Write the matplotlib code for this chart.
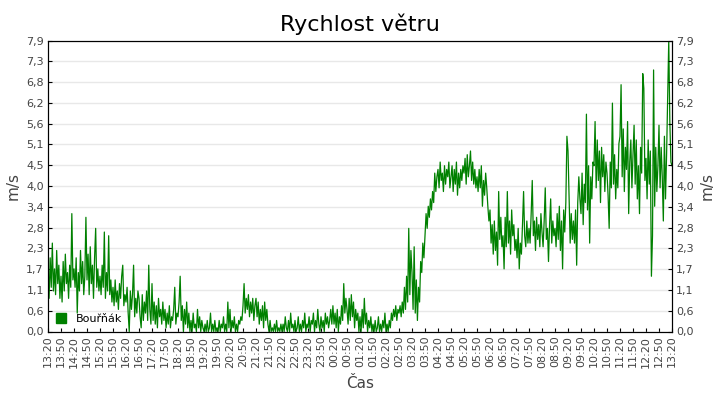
import numpy as np
import pandas as pd
import matplotlib
matplotlib.use('Agg')
import matplotlib.pyplot as plt
import matplotlib.dates as mdates
from matplotlib.patches import Patch

# wind speed, one value every 2.5 min, one row per 30 min block
rychlost = [
    1.6, 0.9, 2.0, 1.2, 2.4, 1.1, 1.7, 1.0, 2.2, 1.3, 1.8, 0.9,   # 13:20
    1.5, 0.8, 1.9, 1.1, 2.1, 1.3, 1.6, 0.9, 1.8, 1.2, 3.2, 1.4,   # 13:50
    1.7, 1.2, 2.0, 0.5, 1.6, 1.1, 2.2, 1.3, 1.9, 1.0, 1.5, 3.1,   # 14:20
    1.4, 2.1, 1.0, 2.3, 1.3, 1.8, 0.9, 2.0, 2.8, 1.2, 1.7, 1.1,   # 14:50
    1.5, 1.0, 1.8, 1.2, 2.7, 0.9, 1.6, 1.1, 2.6, 1.0, 1.4, 0.8,   # 15:20
    1.2, 0.7, 1.4, 0.8, 1.1, 0.6, 1.3, 0.9, 1.5, 1.8, 0.7, 1.0,   # 15:50
    0.8, 1.2, 0.5, 0.0, 1.1, 0.6, 1.0, 1.8, 0.4, 0.9, 0.5, 1.1,   # 16:20
    0.9, 0.4, 0.1, 1.0, 0.3, 0.8, 0.5, 1.1, 0.3, 1.8, 0.6, 0.2,   # 16:50
    1.3, 0.3, 0.8, 0.2, 0.7, 0.1, 0.9, 0.4, 0.6, 0.2, 0.8, 0.3,   # 17:20
    0.6, 0.1, 0.5, 0.2, 0.7, 0.1, 0.4, 0.3, 0.6, 1.2, 0.2, 0.5,   # 17:50
    0.4, 0.8, 1.5, 0.3, 0.7, 0.0, 0.6, 0.2, 0.8, 0.1, 0.5, 0.0,   # 18:20
    0.3, 0.0, 0.5, 0.1, 0.2, 0.0, 0.6, 0.1, 0.4, 0.0, 0.3, 0.1,   # 18:50
    0.0, 0.2, 0.0, 0.3, 0.0, 0.1, 0.5, 0.0, 0.2, 0.0, 0.3, 0.0,   # 19:20
    0.1, 0.0, 0.3, 0.0, 0.2, 0.1, 0.4, 0.0, 0.2, 0.0, 0.8, 0.1,   # 19:50
    0.6, 0.0, 0.3, 0.1, 0.4, 0.0, 0.2, 0.0, 0.3, 0.2, 0.4, 0.3,   # 20:20
    0.7, 1.3, 0.5, 0.9, 0.6, 1.0, 0.4, 0.8, 0.5, 0.9, 0.3, 0.7,   # 20:50
    0.9, 0.4, 0.8, 0.2, 0.6, 0.3, 0.7, 0.1, 0.8, 0.3, 0.6, 0.2,   # 21:20
    0.0, 0.3, 0.0, 0.1, 0.0, 0.2, 0.0, 0.3, 0.0, 0.1, 0.0, 0.2,   # 21:50
    0.0, 0.2, 0.0, 0.4, 0.1, 0.0, 0.3, 0.0, 0.5, 0.1, 0.2, 0.0,   # 22:20
    0.3, 0.0, 0.1, 0.4, 0.0, 0.2, 0.0, 0.3, 0.1, 0.5, 0.0, 0.2,   # 22:50
    0.1, 0.4, 0.0, 0.3, 0.2, 0.5, 0.0, 0.3, 0.1, 0.6, 0.2, 0.0,   # 23:20
    0.4, 0.1, 0.3, 0.0, 0.5, 0.2, 0.4, 0.1, 0.3, 0.6, 0.2, 0.7,   # 23:50
    0.2, 0.5, 0.1, 0.6, 0.0, 0.4, 0.2, 0.7, 0.3, 1.3, 0.5, 0.9,   # 00:20
    0.6, 0.2, 0.9, 0.3, 1.0, 0.4, 0.8, 0.1, 0.6, 0.3, 0.5, 0.0,   # 00:50
    0.4, 0.0, 0.6, 0.1, 0.9, 0.2, 0.5, 0.0, 0.3, 0.1, 0.4, 0.0,   # 01:20
    0.2, 0.0, 0.3, 0.0, 0.1, 0.4, 0.0, 0.2, 0.0, 0.3, 0.1, 0.5,   # 01:50
    0.0, 0.2, 0.0, 0.3, 0.1, 0.5, 0.3, 0.6, 0.4, 0.7, 0.3, 0.6,   # 02:20
    0.5, 0.7, 0.4, 0.8, 0.5, 1.2, 0.6, 1.5, 0.8, 2.8, 1.0, 2.2,   # 02:50
    1.6, 0.6, 2.3, 0.5, 1.4, 0.3, 1.2, 0.8, 1.9, 1.6, 2.4, 2.0,   # 03:20
    2.6, 3.2, 2.8, 3.4, 3.1, 3.6, 3.3, 3.8, 3.5, 4.3, 3.8, 4.2,   # 03:50
    4.4, 3.9, 4.6, 4.1, 4.3, 3.8, 4.5, 4.0, 4.4, 4.2, 4.6, 3.9,   # 04:20
    4.2, 4.5, 3.8, 4.4, 4.0, 4.6, 3.7, 4.3, 3.9, 4.4, 4.1, 4.5,   # 04:50
    4.3, 4.7, 4.0, 4.8, 4.2, 4.5, 4.9, 4.1, 4.6, 4.0, 4.4, 3.9,   # 05:20
    4.2, 3.8, 4.4, 3.9, 4.5, 3.4, 4.1, 3.7, 4.3, 3.9, 3.4, 3.0,   # 05:50
    3.3, 2.4, 2.9, 2.1, 3.0, 2.2, 2.7, 1.8, 3.8, 2.5, 3.1, 2.3,   # 06:20
    2.6, 1.7, 3.1, 2.3, 3.8, 2.4, 3.0, 2.1, 3.3, 2.6, 2.9, 2.2,   # 06:50
    2.5, 2.0, 2.8, 1.7, 2.4, 2.1, 2.9, 3.8, 2.6, 2.3, 3.0, 2.4,   # 07:20
    2.8, 2.4, 3.2, 4.1, 2.6, 3.0, 2.2, 3.1, 2.5, 2.9, 2.3, 3.2,   # 07:50
    2.7, 2.3, 3.0, 3.9, 2.5, 2.8, 1.9, 2.9, 3.6, 2.4, 3.0, 2.6,   # 08:20
    2.8, 2.3, 3.2, 2.5, 3.4, 2.2, 3.0, 1.7, 3.3, 2.7, 3.5, 5.3,   # 08:50
    4.9, 3.6, 2.4, 3.2, 2.5, 3.0, 2.4, 3.3, 1.8, 3.5, 4.2, 3.6,   # 09:20
    3.2, 4.3, 2.9, 4.0, 3.5, 5.9, 3.3, 4.5, 2.4, 4.2, 3.6, 4.6,   # 09:50
    4.5, 5.7, 3.9, 5.2, 4.1, 4.9, 3.5, 5.0, 4.2, 4.8, 3.8, 4.6,   # 10:20
    4.3, 3.7, 2.8, 4.6, 3.9, 6.2, 4.0, 4.8, 3.6, 4.4, 3.9, 5.1,   # 10:50
    5.3, 6.7, 4.2, 5.5, 3.8, 5.0, 4.4, 5.7, 3.2, 4.6, 5.2, 3.9,   # 11:20
    4.8, 5.6, 4.0, 5.2, 3.6, 4.5, 3.2, 5.0, 4.3, 7.0, 6.6, 4.1,   # 11:50
    4.7, 3.6, 5.2, 4.0, 4.9, 1.5, 2.6, 7.1, 3.4, 5.0, 3.8, 4.5,   # 12:20
    5.6, 3.9, 5.0, 4.2, 3.0, 5.3, 3.6, 4.8, 6.3, 7.9, 5.7, 4.6,   # 12:50
    4.5,                                                          # 13:20
]

cas = pd.date_range('2024-01-01 13:20', periods=len(rychlost), freq='150s')

ytick_vals = np.linspace(0, 7.9, 15)
ytick_labels = ['0,0', '0,6', '1,1', '1,7', '2,3', '2,8', '3,4', '4,0',
                '4,5', '5,1', '5,6', '6,2', '6,8', '7,3', '7,9']

txt = '#444444'
zelena = '#008000'

fig = plt.figure(figsize=(7.2, 4.0), dpi=100)
ax = fig.add_axes([48/720, 1 - 331.5/400, 624/720, 291/400])

ax.plot(cas, rychlost, color=zelena, lw=0.9)

ax.set_xlim(cas[0], cas[-1])
ax.set_ylim(0, 7.9)
ax.set_yticks(ytick_vals)
ax.set_yticklabels(ytick_labels)
ax.yaxis.grid(True, color='#e8e8e8', lw=1)
ax.set_axisbelow(True)

ax.xaxis.set_major_locator(mdates.MinuteLocator(byminute=[20, 50]))
ax.xaxis.set_major_formatter(mdates.DateFormatter('%H:%M'))
plt.setp(ax.get_xticklabels(), rotation=90)

ax.tick_params(axis='both', direction='in', length=3, labelsize=8,
               labelcolor=txt, pad=3)
ax.tick_params(axis='y', right=True)

ax2 = ax.twinx()
ax2.set_ylim(ax.get_ylim())
ax2.set_yticks(ytick_vals)
ax2.set_yticklabels(ytick_labels)
ax2.tick_params(axis='y', direction='in', length=3, labelsize=8,
                labelcolor=txt, pad=3)
ax2.set_ylabel('m/s', fontsize=11, color=txt, labelpad=4)

ax.set_ylabel('m/s', fontsize=11, color=txt, labelpad=4)
ax.set_xlabel('Čas', fontsize=11, color=txt, labelpad=6)
ax.set_title('Rychlost větru', fontsize=16, pad=7)

ax.legend(handles=[Patch(color=zelena, label='Bouřňák')], loc='lower left',
          frameon=False, fontsize=8, handlelength=0.95, handleheight=0.95,
          borderaxespad=0.4, borderpad=0.3, handletextpad=0.9)

fig.savefig('out.png', dpi=100)
